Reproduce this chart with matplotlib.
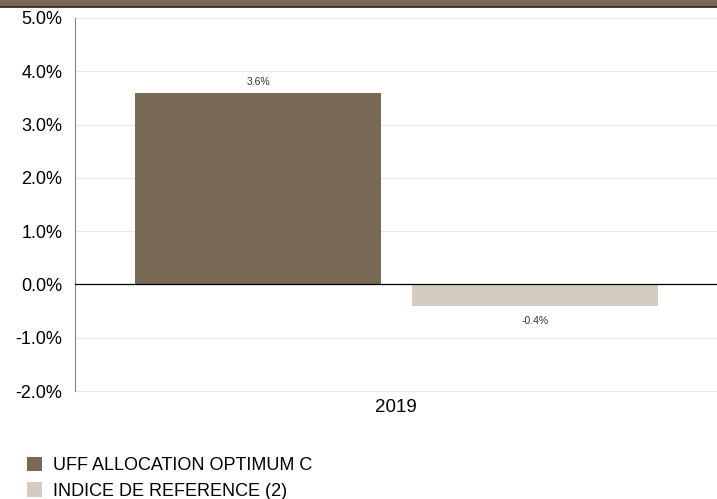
import matplotlib.pyplot as plt
from matplotlib.patches import Rectangle, Patch

plt.rcParams['font.family'] = ['Liberation Sans', 'DejaVu Sans']

# data
years = ['2019']
series_names = ['UFF ALLOCATION OPTIMUM C', 'INDICE DE REFERENCE (2)']
series_values = [[3.6], [-0.4]]
series_colors = ['#776954', '#d5cbc1']
yticks = [-2, -1, 0, 1, 2, 3, 4, 5]

fig = plt.figure(figsize=(7.17, 4.99), dpi=100)
ax = fig.add_axes([75 / 717, 1 - 391 / 499, 1 - 75 / 717, (391 - 18) / 499])

# top band
fig.patches.append(Rectangle((0, 1 - 7 / 499), 1, 7 / 499, transform=fig.transFigure,
                             facecolor='#776954', edgecolor='none', zorder=0))
fig.add_artist(plt.Line2D([0, 1], [1 - 7 / 499, 1 - 7 / 499], transform=fig.transFigure,
                          color='#222222', lw=1.2))

width = 0.383
offsets = [-0.215, 0.216]
for name, vals, col, off in zip(series_names, series_values, series_colors, offsets):
    xs = [i + off for i in range(len(years))]
    bars = ax.bar(xs, vals, width=width, color=col, label=name, zorder=2)
    for b, v in zip(bars, vals):
        y = v + 0.2 if v >= 0 else v - 0.28
        ax.text(b.get_x() + b.get_width() / 2, y, '%.1f%%' % v, ha='center',
                va='center', fontsize=7.5, color='#333333')

ax.set_xlim(-0.5, len(years) - 0.5)
ax.set_ylim(-2, 5)
ax.set_yticks(yticks)
ax.set_yticklabels(['%.1f%%' % t for t in yticks], fontsize=13)
ax.set_xticks(range(len(years)))
ax.set_xticklabels(years, fontsize=13.5)
ax.tick_params(axis='y', length=0, pad=9)
ax.tick_params(axis='x', length=0, pad=6)
ax.grid(axis='y', color='#e6e6e6', lw=0.8, zorder=0)
for gl in ax.get_ygridlines():
    gl.set_clip_on(False)
ax.axhline(0, color='black', lw=0.9, zorder=3)
for s in ['top', 'right', 'bottom']:
    ax.spines[s].set_visible(False)
ax.spines['left'].set_color('#888888')

handles = [Patch(facecolor=c, edgecolor='none') for c in series_colors]
fig.legend(handles, series_names, loc='upper left', bbox_to_anchor=(27 / 717, 1 - 457 / 499),
           frameon=False, fontsize=13, handlelength=0.83, handleheight=0.83,
           handletextpad=0.6, labelspacing=0.45, borderaxespad=0, borderpad=0)

fig.savefig('out.png', dpi=100)
